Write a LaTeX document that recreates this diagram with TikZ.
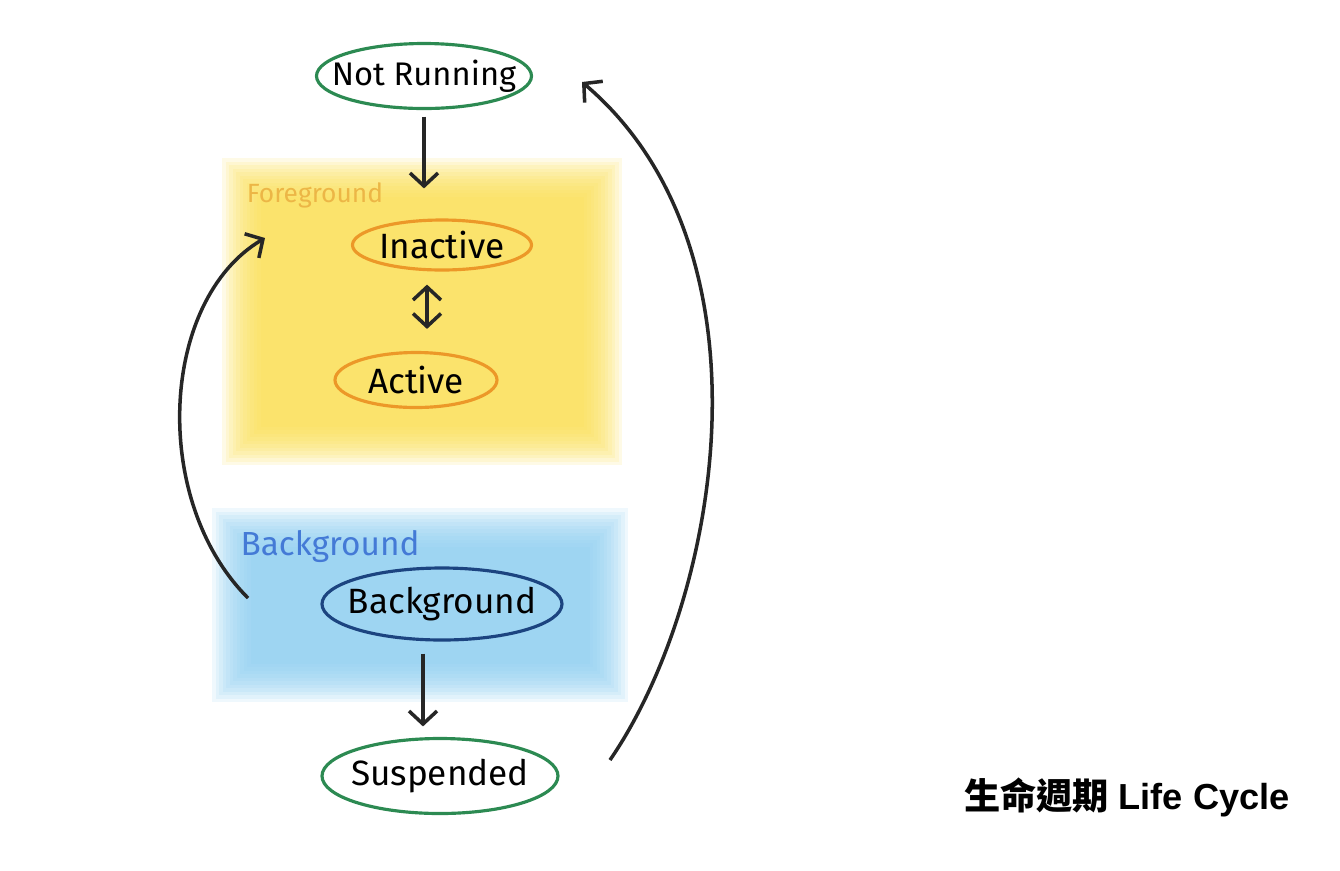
\documentclass[tikz,border=0pt]{standalone}
\usepackage{fontspec}
\setmainfont{Fira Sans}
\newfontfamily\cjkfont{Noto Sans CJK TC}
\newfontfamily\capfont{Liberation Sans}
\usetikzlibrary{arrows.meta,shapes.geometric}
\definecolor{stgreen}{RGB}{44,138,82}
\definecolor{fgorange}{RGB}{236,152,40}
\definecolor{fgyellow}{RGB}{250,222,80}
\definecolor{fglabel}{RGB}{236,182,70}
\definecolor{bgblue}{RGB}{140,205,240}
\definecolor{bglabel}{RGB}{68,122,214}
\definecolor{bgdark}{RGB}{28,68,128}

\begin{document}
\begin{tikzpicture}[x=0.1mm,y=-0.1mm,line width=1pt,
  >={Straight Barb[length=1.3mm,width=2.8mm]}]
\tikzset{state/.style={ellipse,line width=0.9pt,inner xsep=-3mm,inner ysep=-0.5mm,
    font=\fontsize{10}{12}\selectfont},
  flow/.style={->,line width=1pt,black!85}}
\useasboundingbox (0,0) rectangle (1340,870);
% ---------- soft colour areas ----------
\newcommand\softbox[5]{\foreach \i in {0,...,11}
  {\fill[#5,opacity=0.14] (#1+\i*3.5,#2+\i*3.5) rectangle (#3-\i*3.5,#4-\i*3.5);}}
\softbox{222}{158}{622}{465}{fgyellow}
\softbox{212}{508}{628}{702}{bgblue}
\node[text=fglabel,font=\fontsize{7.5}{9}\selectfont] (fglbl) at (315,195) {Foreground};
\node[text=bglabel,font=\fontsize{9.5}{11}\selectfont] (bglbl) at (330,547) {Background};
% ---------- states ----------
\node[state,draw=stgreen,minimum width=21.5mm,minimum height=6.5mm,
  font=\fontsize{9.3}{11}\selectfont] (nr) at (424,76) {Not Running};
\node[state,draw=fgorange,minimum width=17.9mm,minimum height=5mm] (inact) at (442,245) {Inactive};
\node[state,draw=fgorange,minimum width=16.2mm,minimum height=5.5mm] (act) at (416,380) {Active};
\node[state,draw=bgdark,minimum width=24mm,minimum height=7.2mm] (bgst) at (442,604) {Background};
\node[state,draw=stgreen,minimum width=23.6mm,minimum height=7.5mm] (susp) at (440,776) {Suspended};
% ---------- transitions ----------
\draw[flow,shorten <=0.65mm,shorten >=3mm] (nr.south) -- (nr.south |- inact.north);
\draw[flow,<->,shorten <=1.3mm,shorten >=2.2mm] ([xshift=-1.5mm]inact.south) -- ([xshift=-1.5mm]inact.south |- act.north);
\draw[flow,shorten <=1.2mm,shorten >=1.05mm] ([xshift=-1.9mm]bgst.south) -- ([xshift=-1.9mm]bgst.south |- susp.north);
\coordinate (bgout) at (248,598);
\coordinate (fgin) at (265,238);
\coordinate (suout) at (610,760);
\coordinate (nrin) at (582,82);
\draw[flow] (bgout) .. controls (150,500) and (160,300) .. (fgin);
\draw[flow] (suout) .. controls (720,600) and (780,250) .. (nrin);
% ---------- caption ----------
\node[font=\fontsize{10.3}{12}\selectfont] (cap) at (1127,797) {{\cjkfont\bfseries 生命週期} {\capfont\bfseries Life Cycle}};
\end{tikzpicture}
\end{document}
